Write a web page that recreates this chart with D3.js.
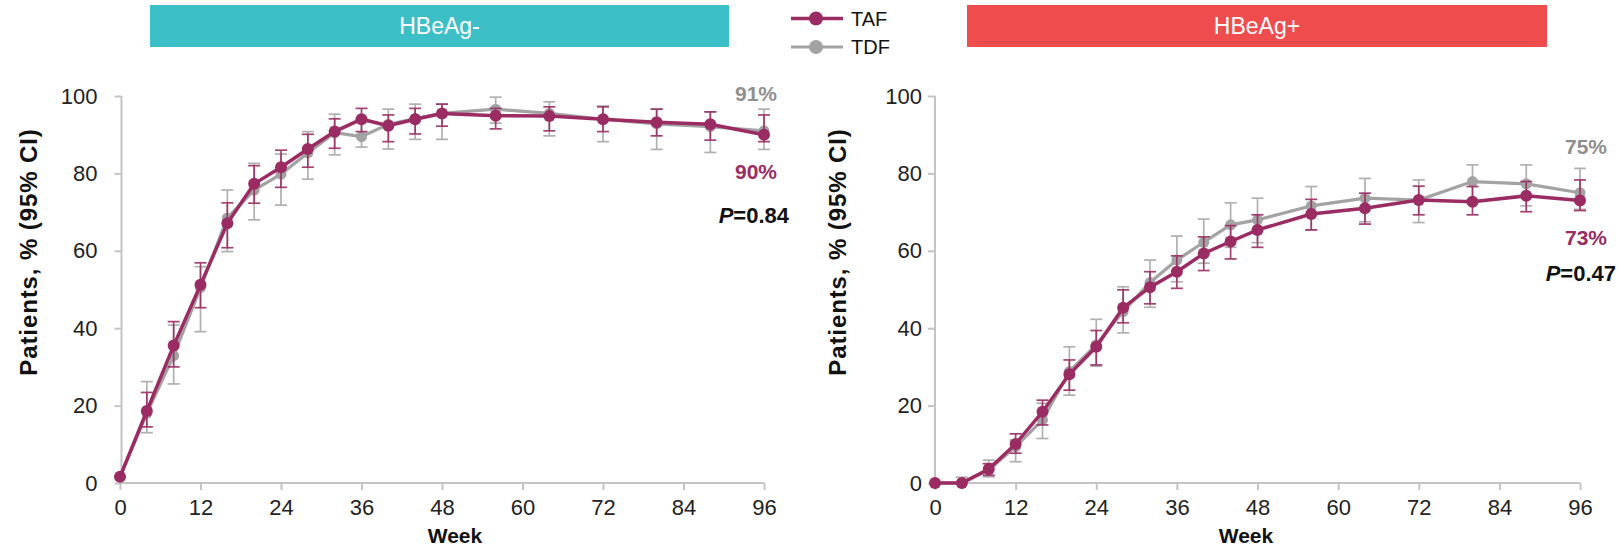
<!DOCTYPE html>
<html>
<head>
<meta charset="utf-8">
<script src="https://cdn.jsdelivr.net/npm/d3@7"></script>
<style>
  html, body { margin: 0; padding: 0; background: #fff; }
  svg { display: block; font-family: "Liberation Sans", Arial, sans-serif; }
</style>
</head>
<body>
<svg id="chart" width="1618" height="555"></svg>
<script>
// Study weeks at which response was assessed
const weeks = [0, 4, 8, 12, 16, 20, 24, 28, 32, 36, 40, 44, 48, 56, 64, 72, 80, 88, 96];
const xTicks = [0, 12, 24, 36, 48, 60, 72, 84, 96];
const yTicks = [0, 20, 40, 60, 80, 100];

// HBeAg-negative: % patients (point estimate, lower and upper 95% CI)
const negTAF   = [1.6, 18.6, 35.5, 51.2, 67.1, 77.3, 81.6, 86.3, 90.8, 94.0, 92.3, 94.0, 95.5, 94.9, 94.8, 94.0, 93.2, 92.7, 90];
const negTAFlo = [1.6, 14.5, 30.0, 45.3, 60.8, 72.3, 76.4, 81.6, 86.5, 90.8, 88.2, 90.2, 92.2, 91.5, 91.0, 90.8, 89.7, 88.6, 88.2];
const negTAFhi = [1.6, 23.4, 41.7, 56.9, 72.4, 82.0, 86.0, 90.1, 94.1, 96.8, 95.1, 96.8, 97.9, 96.8, 97.2, 97.2, 96.6, 95.9, 95.1];
const negTDF   = [1.6, 18.0, 32.9, 50.5, 68.5, 75.7, 79.8, 85.3, 90.5, 89.5, 92.7, 94.2, 95.5, 96.6, 95.5, 94.0, 92.8, 92.1, 91];
const negTDFlo = [1.6, 13.0, 25.6, 39.1, 59.8, 68.0, 71.8, 78.5, 84.8, 86.8, 86.3, 88.8, 88.8, 93.0, 89.7, 88.2, 86.2, 85.4, 86.2];
const negTDFhi = [1.6, 26.2, 40.8, 55.9, 75.7, 82.6, 85.0, 90.8, 95.3, 94.0, 96.6, 97.9, 97.9, 99.7, 98.5, 97.4, 96.6, 95.9, 96.6];

// HBeAg-positive
const posTAF   = [0, 0, 3.6, 10.1, 18.4, 28.1, 35.2, 45.3, 50.6, 54.6, 59.3, 62.4, 65.4, 69.5, 71.0, 73.1, 72.7, 74.2, 73];
const posTAFlo = [0, 0, 2.0, 7.7, 15.0, 24.0, 30.5, 41.4, 46.3, 50.3, 54.9, 57.9, 60.9, 65.4, 66.9, 69.3, 69.3, 70.1, 70.4];
const posTAFhi = [0, 0, 5.0, 12.7, 21.4, 31.8, 39.4, 49.9, 54.6, 58.7, 63.6, 66.5, 69.3, 73.3, 74.9, 76.7, 76.6, 77.9, 78.3];
const posTDF   = [0, 0, 3.3, 9.4, 16.3, 28.8, 35.7, 44.3, 51.8, 57.6, 62.2, 66.7, 68.0, 71.6, 73.6, 73.1, 77.9, 77.3, 75];
const posTDFlo = [0, 0, 1.6, 5.5, 11.5, 22.7, 30.2, 38.8, 45.4, 52.0, 56.8, 60.9, 62.1, 65.4, 67.5, 67.3, 73.1, 71.6, 70.7];
const posTDFhi = [0, 1.5, 5.9, 11.1, 20.6, 35.2, 42.3, 50.7, 57.6, 63.8, 68.2, 72.4, 73.6, 76.6, 78.7, 78.3, 82.2, 82.2, 81.3];

const colors = { TAF: "#9b2c63", TDF: "#a3a3a3" };

const svg = d3.select("#chart");
const yRange = [483, 96];

function panel(opt) {
  const x = d3.scaleLinear().domain([0, 96]).range(opt.xRange);
  const y = d3.scaleLinear().domain([0, 100]).range(yRange);
  const g = svg.append("g");

  // header band
  g.append("rect")
    .attr("x", opt.band[0]).attr("y", 5)
    .attr("width", opt.band[1] - opt.band[0]).attr("height", 42)
    .attr("fill", opt.bandColor);
  g.append("text")
    .attr("x", (opt.band[0] + opt.band[1]) / 2).attr("y", 34)
    .attr("text-anchor", "middle").attr("fill", "#fff")
    .attr("font-size", 23).text(opt.title);

  // axes
  const yAxis = d3.axisLeft(y).tickValues(yTicks).tickSize(7).tickPadding(opt.yPad);
  const yg = g.append("g").attr("transform", `translate(${opt.yAxisX},0)`).call(yAxis);
  const xAxis = d3.axisBottom(x).tickValues(xTicks).tickSize(7).tickPadding(9);
  const xg = g.append("g").attr("transform", `translate(0,${yRange[0]})`).call(xAxis);
  [yg, xg].forEach(a => {
    a.select(".domain").attr("stroke", "#c4c4c4").attr("stroke-width", 2);
    a.selectAll(".tick line").attr("stroke", "#c4c4c4").attr("stroke-width", 2);
    a.selectAll(".tick text").attr("font-size", 22).attr("fill", "#222")
      .attr("font-family", "'Liberation Sans', Arial, sans-serif");
  });
  yg.select(".domain").attr("d", `M0,${yRange[0]}V${yRange[1]}`);
  yg.selectAll(".tick line").attr("x2", -7);
  xg.select(".domain").attr("d", `M${x(0)},0H${x(96)}`);

  // axis titles
  g.append("text")
    .attr("transform", `translate(${opt.yLabelX},${opt.yLabelY}) rotate(-90)`)
    .attr("text-anchor", "middle").attr("font-weight", "bold")
    .attr("font-size", 24).attr("letter-spacing", 0.9).attr("fill", "#111")
    .text("Patients, % (95% CI)");
  g.append("text")
    .attr("x", opt.weekX).attr("y", 543)
    .attr("text-anchor", "middle").attr("font-weight", "bold")
    .attr("font-size", 21).attr("fill", "#111").text("Week");

  const line = d3.line().x(d => x(d.w)).y(d => y(d.v));

  // TDF drawn first, TAF on top
  opt.series.slice().reverse().forEach(s => {
    const pts = weeks.map((w, i) => ({ w, v: s.v[i], lo: s.lo[i], hi: s.hi[i] }));
    const c = colors[s.name];
    const eb = g.append("g").attr("stroke", c).attr("stroke-width", 1.7)
      .attr("opacity", s.name === "TAF" ? 0.9 : 0.85);
    pts.filter(d => d.hi > d.lo).forEach(d => {
      const cx = x(d.w);
      eb.append("line").attr("x1", cx).attr("x2", cx).attr("y1", y(d.lo)).attr("y2", y(d.hi));
      eb.append("line").attr("x1", cx - 6).attr("x2", cx + 6).attr("y1", y(d.lo)).attr("y2", y(d.lo));
      eb.append("line").attr("x1", cx - 6).attr("x2", cx + 6).attr("y1", y(d.hi)).attr("y2", y(d.hi));
    });
    g.append("path").datum(pts).attr("d", line)
      .attr("fill", "none").attr("stroke", c)
      .attr("stroke-width", s.name === "TAF" ? 3.5 : 3.2);
    g.append("g").selectAll("circle").data(pts).join("circle")
      .attr("cx", d => x(d.w)).attr("cy", d => y(d.v))
      .attr("r", s.name === "TAF" ? 6 : 5.5).attr("fill", c);
  });

  // end-of-study annotations
  const ann = g.append("g").attr("font-weight", "bold").attr("text-anchor", "end");
  ann.append("text").attr("x", opt.annX).attr("y", opt.annY[0]).attr("font-size", 21)
    .attr("fill", "#8f8f8f").text(opt.tdfPct);
  ann.append("text").attr("x", opt.annX).attr("y", opt.annY[1]).attr("font-size", 21)
    .attr("fill", colors.TAF).text(opt.tafPct);
  const p = ann.append("text").attr("x", opt.pX).attr("y", opt.annY[2])
    .attr("font-size", 22).attr("fill", "#111");
  p.append("tspan").attr("font-style", "italic").text("P");
  p.append("tspan").text("=" + opt.pValue);
}

panel({
  title: "HBeAg-", band: [150, 729], bandColor: "#3dbfc8",
  xRange: [120, 764], yAxisX: 121.5, yPad: 17,
  yLabelX: 37, yLabelY: 252, weekX: 455,
  series: [
    { name: "TAF", v: negTAF, lo: negTAFlo, hi: negTAFhi },
    { name: "TDF", v: negTDF, lo: negTDFlo, hi: negTDFhi }
  ],
  annX: 777, pX: 789, annY: [100.5, 179, 223],
  tdfPct: "91%", tafPct: "90%", pValue: "0.84"
});

panel({
  title: "HBeAg+", band: [967, 1547], bandColor: "#ef4c4e",
  xRange: [935, 1580], yAxisX: 935, yPad: 6,
  yLabelX: 846, yLabelY: 252, weekX: 1246,
  series: [
    { name: "TAF", v: posTAF, lo: posTAFlo, hi: posTAFhi },
    { name: "TDF", v: posTDF, lo: posTDFlo, hi: posTDFhi }
  ],
  annX: 1607, pX: 1616, annY: [154, 245, 281],
  tdfPct: "75%", tafPct: "73%", pValue: "0.47"
});

// legend
const legend = svg.append("g");
[["TAF", 18.5], ["TDF", 47]].forEach(([name, ly]) => {
  const c = colors[name];
  legend.append("line").attr("x1", 791).attr("x2", 843).attr("y1", ly).attr("y2", ly)
    .attr("stroke", c).attr("stroke-width", name === "TAF" ? 3.5 : 3);
  legend.append("circle").attr("cx", 816).attr("cy", ly).attr("r", 7).attr("fill", c);
  legend.append("text").attr("x", 851).attr("y", ly + 7).attr("font-size", 20)
    .attr("fill", "#111").text(name);
});
</script>
</body>
</html>
